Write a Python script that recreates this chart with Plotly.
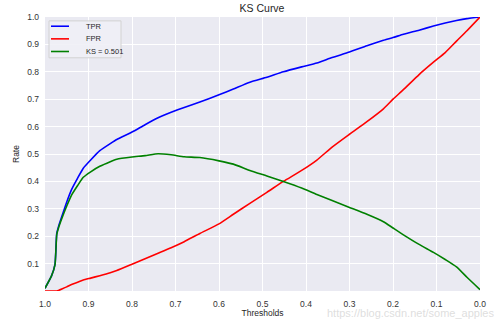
import plotly.graph_objects as go

thresholds = [1.0, 0.985, 0.977, 0.973, 0.969, 0.96, 0.95, 0.939, 0.925, 0.912, 0.895, 0.874,
              0.85, 0.835, 0.8, 0.77, 0.74, 0.71, 0.68, 0.644, 0.6, 0.567, 0.529, 0.49, 0.452,
              0.41, 0.375, 0.34, 0.3, 0.26, 0.222, 0.2, 0.176, 0.14, 0.107, 0.08, 0.054, 0.03, 0.0]
tpr = [0.01, 0.055, 0.097, 0.21, 0.235, 0.278, 0.325, 0.37, 0.412, 0.448, 0.478, 0.512,
       0.538, 0.553, 0.58, 0.607, 0.632, 0.652, 0.67, 0.69, 0.716, 0.737, 0.762, 0.78, 0.80,
       0.818, 0.832, 0.852, 0.872, 0.895, 0.915, 0.925, 0.937, 0.952, 0.967, 0.978, 0.987, 0.994, 1.0]
fpr = [0.0, 0.0, 0.0, 0.0, 0.002, 0.008, 0.015, 0.024, 0.032, 0.04, 0.047, 0.056,
       0.067, 0.075, 0.098, 0.118, 0.138, 0.158, 0.18, 0.21, 0.245, 0.28, 0.32, 0.36, 0.40,
       0.44, 0.478, 0.525, 0.572, 0.618, 0.665, 0.70, 0.735, 0.79, 0.835, 0.87, 0.912, 0.95, 1.0]
ks = [0.01, 0.055, 0.096, 0.206, 0.23, 0.27, 0.31, 0.35, 0.385, 0.415, 0.435, 0.455,
      0.472, 0.481, 0.489, 0.494, 0.501, 0.497, 0.49, 0.487, 0.475, 0.463, 0.44, 0.42, 0.40,
      0.376, 0.352, 0.33, 0.305, 0.28, 0.253, 0.23, 0.205, 0.17, 0.141, 0.115, 0.088, 0.05, 0.005]

series_names = ["TPR", "FPR", "KS = 0.501"]
series_colors = ["#0000FF", "#FF0000", "#008000"]

x_ticks = [1.0, 0.9, 0.8, 0.7, 0.6, 0.5, 0.4, 0.3, 0.2, 0.1, 0.0]
y_ticks = [0.1, 0.2, 0.3, 0.4, 0.5, 0.6, 0.7, 0.8, 0.9, 1.0]

fig = go.Figure()
for name, vals, col in zip(series_names, [tpr, fpr, ks], series_colors):
    fig.add_trace(go.Scatter(x=thresholds, y=vals, mode="lines", name=name,
                             line=dict(color=col, width=1.6, shape="spline", smoothing=0.5),
                             showlegend=False))

font_family = "Liberation Sans, Arial, sans-serif"
fig.update_layout(
    width=500, height=327,
    margin=dict(l=45, r=20, t=16, b=29),
    paper_bgcolor="white",
    plot_bgcolor="#EAEAF2",
    font=dict(family=font_family, size=8.5, color="#333333"),
    title=dict(text="KS Curve", x=0.524, xanchor="center", y=0.975, yanchor="middle",
               font=dict(size=10.5, color="#262626")),
    xaxis=dict(range=[1.0, 0.0], tickvals=x_ticks, ticktext=[f"{v:.1f}" for v in x_ticks],
               showgrid=True, gridcolor="white", gridwidth=1, zeroline=False, showline=False,
               ticks="", ticklabelstandoff=6,
               title=dict(text="Thresholds", standoff=1, font=dict(size=8.5, color="#262626"))),
    yaxis=dict(range=[0, 1.0], tickvals=y_ticks, ticktext=[f"{v:.1f}" for v in y_ticks],
               showgrid=True, gridcolor="white", gridwidth=1, zeroline=False, showline=False,
               ticks="", ticklabelstandoff=5,
               title=dict(text="Rate", standoff=6, font=dict(size=8.5, color="#262626"))),
)

# hand-drawn legend box (matplotlib style, compact)
W, H = 435.0, 282.0
def px(xp):
    return (xp - 45) / W
def py(yp):
    return (298 - yp) / H

fig.add_shape(type="rect", xref="paper", yref="paper",
              x0=px(49), x1=px(121), y0=py(58), y1=py(20),
              fillcolor="rgba(240,240,246,0.9)", line=dict(color="#D2D2D2", width=1))
for i, (name, col) in enumerate(zip(series_names, series_colors)):
    yy = py(25.5 + 13 * i)
    fig.add_shape(type="line", xref="paper", yref="paper",
                  x0=px(51), x1=px(69), y0=yy, y1=yy, line=dict(color=col, width=1.6))
    fig.add_annotation(text=name, xref="paper", yref="paper", x=px(84), y=yy,
                       xanchor="left", yanchor="middle", showarrow=False,
                       font=dict(size=7.5, color="#262626"))

fig.add_annotation(text="https://blog.csdn.net/some_apples", xref="paper", yref="paper",
                   x=px(496), y=py(321), xanchor="right", yanchor="middle",
                   showarrow=False, font=dict(size=11, color="rgba(200,200,200,0.6)"))

fig.write_html("out.html")
